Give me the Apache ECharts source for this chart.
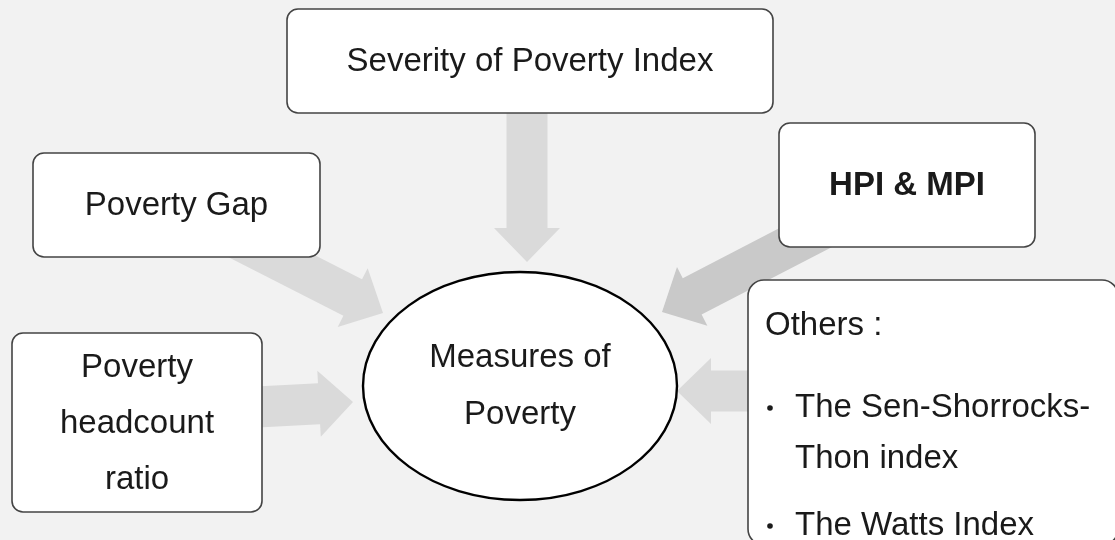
<!DOCTYPE html>
<html>
<head>
<meta charset="utf-8">
<script src="https://cdn.jsdelivr.net/npm/echarts@6/dist/echarts.min.js"></script>
<style>
  html, body { margin: 0; padding: 0; background: #f2f2f2; }
  #chart { width: 1115px; height: 540px; }
</style>
</head>
<body>
<div id="chart"></div>
<script>
// diagram content
const boxLabels = ['Severity of Poverty Index', 'Poverty Gap', 'HPI & MPI', 'Poverty\nheadcount\nratio'];
const boxBold = [false, false, true, false];
const centerLabel = 'Measures of\nPoverty';
const othersTitle = 'Others :';
const othersItems = [['The Sen-Shorrocks-', 'Thon index'], ['The Watts Index']];

// layout (data space = pixels, y going down)
const boxRects = [[287, 9, 773, 113], [33, 153, 320, 257], [779, 123, 1035, 247], [12, 333, 262, 512]];
const othersRect = [748, 280, 1118, 545];
const ellipseGeo = [520, 386, 157, 114];
const arrowTips = [[527, 262], [383, 313], [662, 312], [353, 402], [677, 391]];
const arrowAngles = [90, 27, 152.6, -3, 180];
const arrowLengths = [160, 175, 200, 120, 110];
const arrowColors = ['#dadada', '#dadada', '#c9c9c9', '#dadada', '#dadada'];

const FONT = '"Liberation Sans", Arial, sans-serif';
const SHAFT = 41, HEAD = 66, HEADLEN = 34;

function arrowPoints(tip, ang, len) {
  const a = ang * Math.PI / 180;
  const ux = Math.cos(a), uy = Math.sin(a);
  const nx = -uy, ny = ux;
  const bx = tip[0] - HEADLEN * ux, by = tip[1] - HEADLEN * uy;
  const sx = tip[0] - len * ux, sy = tip[1] - len * uy;
  const w = SHAFT / 2, h = HEAD / 2;
  return [
    [sx + w * nx, sy + w * ny],
    [bx + w * nx, by + w * ny],
    [bx + h * nx, by + h * ny],
    tip,
    [bx - h * nx, by - h * ny],
    [bx - w * nx, by - w * ny],
    [sx - w * nx, sy - w * ny]
  ];
}

const chart = echarts.init(document.getElementById('chart'));

const option = {
  backgroundColor: '#f2f2f2',
  animation: false,
  grid: { left: 0, right: 0, top: 0, bottom: 0 },
  xAxis: { type: 'value', min: 0, max: 1115, show: false },
  yAxis: { type: 'value', min: 0, max: 540, inverse: true, show: false },
  series: [
    {
      // arrows
      type: 'custom',
      silent: true,
      z: 1,
      data: arrowTips.map((t, i) => [t[0], t[1], i]),
      renderItem: function (params, api) {
        const i = api.value(2);
        const pts = arrowPoints(arrowTips[i], arrowAngles[i], arrowLengths[i]).map(p => api.coord(p));
        return {
          type: 'polygon',
          shape: { points: pts },
          style: { fill: arrowColors[i], stroke: null }
        };
      }
    },
    {
      // rounded boxes
      type: 'custom',
      silent: true,
      z: 2,
      data: boxRects.map((r, i) => [r[0], r[1], r[2], r[3], i]),
      renderItem: function (params, api) {
        const i = api.value(4);
        const p0 = api.coord([api.value(0), api.value(1)]);
        const p1 = api.coord([api.value(2), api.value(3)]);
        return {
          type: 'group',
          children: [
            {
              type: 'rect',
              shape: { x: p0[0], y: p0[1], width: p1[0] - p0[0], height: p1[1] - p0[1], r: 11 },
              style: { fill: '#ffffff', stroke: '#444444', lineWidth: 1.6 }
            },
            {
              type: 'text',
              x: (p0[0] + p1[0]) / 2,
              y: (p0[1] + p1[1]) / 2 + 1,
              style: {
                text: boxLabels[i],
                fill: '#1a1a1a',
                fontFamily: FONT,
                fontSize: 33,
                fontWeight: boxBold[i] ? 'bold' : 'normal',
                lineHeight: 56,
                align: 'center',
                verticalAlign: 'middle'
              }
            }
          ]
        };
      }
    },
    {
      // center ellipse
      type: 'custom',
      silent: true,
      z: 3,
      data: [[ellipseGeo[0], ellipseGeo[1], ellipseGeo[2], ellipseGeo[3]]],
      renderItem: function (params, api) {
        const c = api.coord([api.value(0), api.value(1)]);
        const s = api.size([api.value(2), api.value(3)]);
        return {
          type: 'group',
          children: [
            {
              type: 'ellipse',
              shape: { cx: c[0], cy: c[1], rx: s[0], ry: s[1] },
              style: { fill: '#ffffff', stroke: '#000000', lineWidth: 2.4 }
            },
            {
              type: 'text',
              x: c[0],
              y: c[1],
              style: {
                text: centerLabel,
                fill: '#1a1a1a',
                fontFamily: FONT,
                fontSize: 33,
                lineHeight: 57,
                align: 'center',
                verticalAlign: 'middle'
              }
            }
          ]
        };
      }
    },
    {
      // "Others" box with bullet list
      type: 'custom',
      silent: true,
      z: 4,
      data: [othersRect],
      renderItem: function (params, api) {
        const p0 = api.coord([api.value(0), api.value(1)]);
        const p1 = api.coord([api.value(2), api.value(3)]);
        const left = p0[0] + 17;
        const txt = (s, x, y) => ({
          type: 'text', x: x, y: y,
          style: { text: s, fill: '#1a1a1a', fontFamily: FONT, fontSize: 33, align: 'left', verticalAlign: 'middle' }
        });
        const children = [
          {
            type: 'rect',
            shape: { x: p0[0], y: p0[1], width: p1[0] - p0[0], height: p1[1] - p0[1], r: 16 },
            style: { fill: '#ffffff', stroke: '#444444', lineWidth: 1.6 }
          },
          txt(othersTitle, left, p0[1] + 46)
        ];
        const rows = [[128, 179], [246]];
        othersItems.forEach((lines, k) => {
          children.push({
            type: 'circle',
            shape: { cx: left + 5, cy: p0[1] + rows[k][0], r: 2.8 },
            style: { fill: '#1a1a1a' }
          });
          lines.forEach((ln, j) => children.push(txt(ln, left + 30, p0[1] + rows[k][j])));
        });
        return { type: 'group', children: children };
      }
    }
  ]
};

chart.setOption(option);
</script>
</body>
</html>
